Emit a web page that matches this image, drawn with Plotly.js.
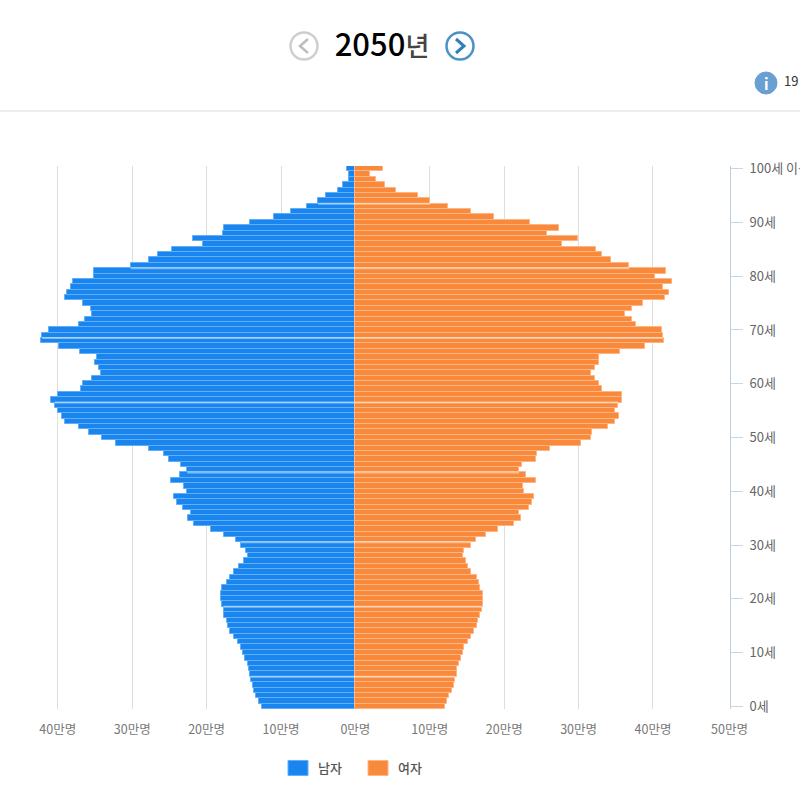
<!DOCTYPE html>
<html>
<head>
<meta charset="utf-8">
<script src="https://cdn.plot.ly/plotly-3.0.1.min.js"></script>
<style>
  html, body { margin: 0; padding: 0; background: #fff; overflow: hidden; }
  #myDiv { width: 800px; height: 795px; }
</style>
</head>
<body>
<div id="myDiv"></div>
<script>
// population in units of 10,000 people, index = age (100 = 100 and over)
var ages = [];
for (var a = 0; a <= 100; a++) ages.push(a);

var male = [
  12.6, 13.0, 13.3, 13.6, 13.8, 14.1, 14.2, 14.3, 14.5, 14.8,
  15.1, 15.4, 15.8, 16.3, 16.8, 17.1, 17.3, 17.6, 17.7, 17.9,
  18.1, 18.1, 17.9, 17.3, 16.8, 16.3, 15.6, 15.0, 14.4, 14.7,
  15.4, 16.1, 17.6, 19.4, 21.7, 22.5, 22.1, 23.2, 24.0, 24.4,
  22.6, 23.1, 24.8, 23.6, 22.6, 23.5, 25.0, 25.7, 27.8, 32.2,
  34.0, 35.8, 37.2, 39.0, 39.5, 40.0, 40.4, 40.9, 40.0, 36.9,
  36.6, 35.4, 34.2, 34.4, 35.0, 34.7, 37.0, 39.9, 42.3, 42.1,
  41.2, 37.1, 36.3, 35.4, 35.6, 36.6, 39.0, 38.7, 38.2, 38.0,
  35.2, 35.2, 30.2, 27.8, 26.6, 24.6, 20.5, 21.8, 17.8, 17.6,
  14.2, 11.0, 8.7, 6.5, 5.0, 3.9, 2.3, 1.6, 0.9, 0.8, 1.1
];
var female = [
  12.0, 12.3, 12.6, 13.0, 13.3, 13.4, 13.6, 13.7, 13.9, 14.2,
  14.4, 14.6, 15.1, 15.5, 16.0, 16.3, 16.5, 16.8, 17.0, 17.2,
  17.2, 17.1, 16.8, 16.6, 16.4, 15.6, 15.2, 14.8, 14.5, 14.6,
  15.5, 16.2, 17.5, 19.2, 21.3, 22.2, 22.0, 23.3, 23.8, 24.0,
  22.7, 22.5, 24.3, 22.9, 22.0, 22.4, 24.3, 24.4, 26.2, 30.3,
  31.7, 31.8, 34.0, 34.9, 35.4, 34.9, 35.3, 35.8, 35.8, 33.2,
  32.7, 32.2, 31.7, 32.2, 32.8, 32.8, 35.5, 38.9, 41.5, 41.3,
  41.2, 37.7, 37.2, 36.3, 37.2, 38.7, 41.6, 42.1, 41.4, 42.5,
  40.3, 41.7, 36.8, 34.3, 33.2, 32.3, 27.8, 29.9, 25.7, 27.3,
  23.5, 18.6, 15.5, 12.4, 10.0, 8.4, 5.4, 4.0, 2.8, 1.9, 3.7
];

var xTicks = [-40, -30, -20, -10, 0, 10, 20, 30, 40];
var xLabels = ['40만명', '30만명', '20만명', '10만명', '0만명', '10만명', '20만명', '30만명', '40만명'];
var yTicks = [0, 10, 20, 30, 40, 50, 60, 70, 80, 90, 100];
var yLabels = ['0세', '10세', '20세', '30세', '40세', '50세', '60세', '70세', '80세', '90세', '100세 이상'];
// pale seams that show across the bars in the reference, between these ages
var seams = [5, 18, 30, 43, 56, 68, 81, 93];

var W = 800, H = 795;
var FONT = '"Noto Sans CJK KR", "Noto Sans", sans-serif';
function px(x) { return x / W; }
function py(y) { return 1 - y / H; }

var traceM = {
  type: 'bar', orientation: 'h', name: '남자',
  y: ages, x: male.map(function (v) { return -v; }),
  marker: {color: '#1a85ee', line: {color: '#5fb0f8', width: 1}}
};
var traceF = {
  type: 'bar', orientation: 'h', name: '여자',
  y: ages, x: female,
  marker: {color: '#f98a3c', line: {color: '#fdb585', width: 1}}
};

function circle(cx, cy, r, line, fill, w) {
  return {type: 'circle', xref: 'paper', yref: 'paper',
    x0: px(cx - r), x1: px(cx + r), y0: py(cy + r), y1: py(cy - r),
    line: {color: line, width: w}, fillcolor: fill};
}
function chevron(cx, cy, dir, color, w) {
  var p = 'M' + px(cx - dir * 4) + ',' + py(cy - 7) +
          ' L' + px(cx + dir * 4) + ',' + py(cy) +
          ' L' + px(cx - dir * 4) + ',' + py(cy + 7);
  return {type: 'path', xref: 'paper', yref: 'paper', path: p, line: {color: color, width: w}};
}
function edgeLabel(x, text) {
  return {xref: 'paper', yref: 'paper', x: px(x), y: py(728), text: text, showarrow: false,
    font: {family: FONT, size: 12.5, color: '#777'}, xanchor: 'center', yanchor: 'middle'};
}

var seamShapes = seams.map(function (s) {
  return {type: 'line', xref: 'x', yref: 'y',
    x0: -Math.min(male[s], male[s + 1]), x1: Math.min(female[s], female[s + 1]),
    y0: s + 0.5, y1: s + 0.5,
    line: {color: 'rgba(255,255,255,0.45)', width: 2}};
});

var layout = {
  width: W, height: H,
  margin: {l: 0, r: 0, t: 0, b: 0},
  paper_bgcolor: '#fff', plot_bgcolor: '#fff',
  font: {family: FONT},
  showlegend: true,
  barmode: 'relative',
  bargap: 0,
  title: {
    text: '2050<span style="font-size:26px;color:#444">년</span>',
    font: {family: FONT, size: 31, color: '#000', weight: 500},
    x: px(382), xanchor: 'center', xref: 'paper',
    y: py(45), yanchor: 'middle', yref: 'paper'
  },
  xaxis: {
    range: [-47.77, 59.76],
    domain: [0, 1],
    tickmode: 'array', tickvals: xTicks, ticktext: xLabels,
    tickfont: {size: 12.5, color: '#777'},
    ticklabelstandoff: 11,
    showgrid: true, gridcolor: '#dedede', gridwidth: 1,
    zeroline: false, showline: false, ticks: ''
  },
  yaxis: {
    range: [-0.5, 100.5],
    domain: [py(709), py(166)],
    anchor: 'free', position: px(730), side: 'right',
    tickmode: 'array', tickvals: yTicks, ticktext: yLabels,
    tickfont: {size: 13, color: '#666'},
    ticks: 'outside', ticklen: 12, tickcolor: '#c9d6df', tickwidth: 1,
    ticklabelstandoff: 4,
    showline: true, linecolor: '#bdd0db', linewidth: 1,
    showgrid: false, zeroline: false
  },
  legend: {
    orientation: 'h',
    x: px(278), xanchor: 'left',
    y: py(753), yanchor: 'top',
    font: {size: 13, color: '#555', weight: 500},
    entrywidth: 35, entrywidthmode: 'pixels',
    bgcolor: 'rgba(0,0,0,0)'
  },
  shapes: seamShapes.concat([
    {type: 'line', xref: 'paper', yref: 'paper', x0: 0, x1: 1, y0: py(111), y1: py(111), line: {color: '#dcdcdc', width: 1}},
    circle(304, 46, 13.5, '#cfcfcf', '#fff', 2.5),
    chevron(304, 46, -1, '#bdbdbd', 2.5),
    circle(460, 46, 13.5, '#4b93c6', '#fff', 2.5),
    chevron(460, 46, 1, '#2f7fb8', 3),
    circle(766, 83, 11, '#6a9fd2', '#6a9fd2', 1)
  ]),
  annotations: [
    {xref: 'paper', yref: 'paper', x: px(766), y: py(84), text: '<b>i</b>', showarrow: false,
     font: {family: FONT, size: 15, color: '#fff'}, xanchor: 'center', yanchor: 'middle'},
    {xref: 'paper', yref: 'paper', x: px(782), y: py(81), text: '19', showarrow: false,
     font: {family: FONT, size: 13, color: '#333'}, xanchor: 'left', yanchor: 'middle'},
    edgeLabel(-18, '50만명'),
    edgeLabel(729, '50만명')
  ]
};

Plotly.newPlot('myDiv', [traceM, traceF], layout, {displayModeBar: false}).then(function (gd) {
  // reference legend uses wider swatches than plotly's 12px box
  gd.querySelectorAll('.legend .legendpoints path').forEach(function (p) {
    p.setAttribute('d', 'M10,7.5H-10V-7.5H10Z');
  });
});
</script>
</body>
</html>
